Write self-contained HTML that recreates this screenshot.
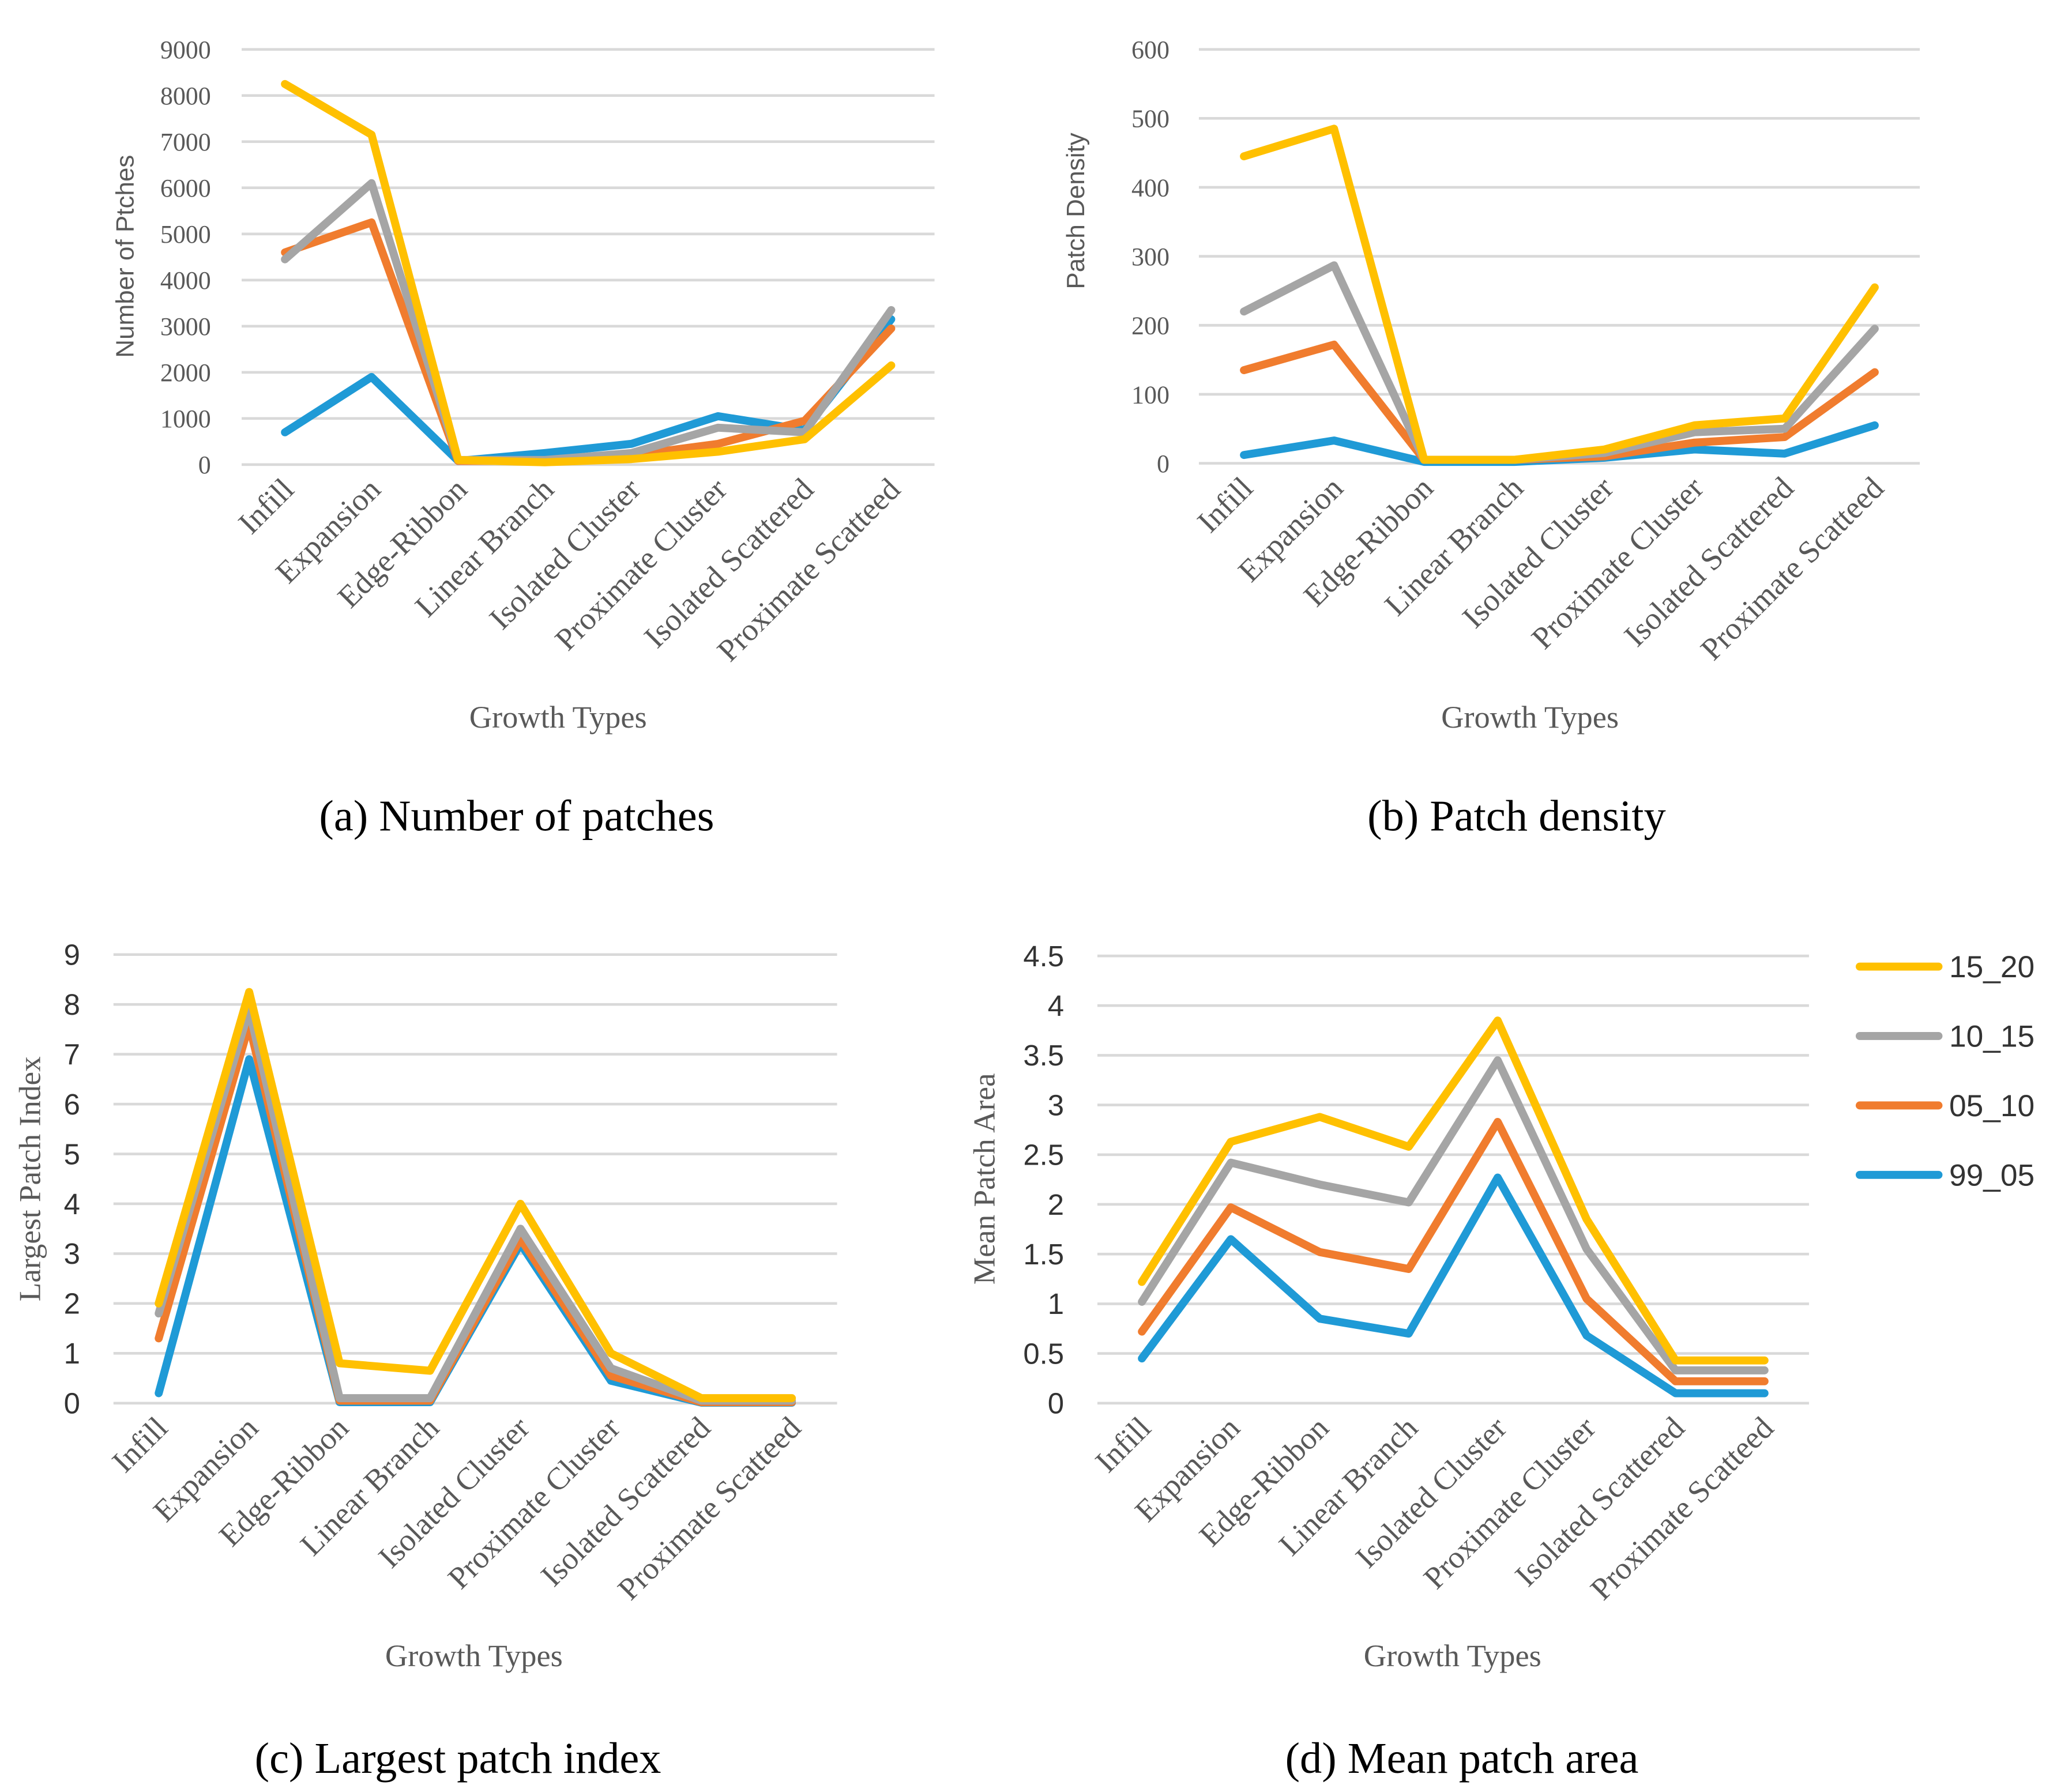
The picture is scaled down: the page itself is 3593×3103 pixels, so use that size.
<!DOCTYPE html>
<html><head><meta charset="utf-8"><style>
html,body{margin:0;padding:0;background:#fff;}
svg{display:block;}
.serif{font-family:"Liberation Serif",serif;}
.sans{font-family:"Liberation Sans",sans-serif;}
</style></head><body>
<svg id="fig" xmlns="http://www.w3.org/2000/svg" width="3593" height="3103" viewBox="0 0 1552 1340" preserveAspectRatio="none"></svg>
<script>
const categories = ["Infill","Expansion","Edge-Ribbon","Linear Branch","Isolated Cluster","Proximate Cluster","Isolated Scattered","Proximate Scatteed"];
const seriesNames = ["99_05","05_10","10_15","15_20"];
const seriesColors = ["#1F9AD6","#F07C2E","#A5A5A5","#FFC000"];

const aTicks = ["0","1000","2000","3000","4000","5000","6000","7000","8000","9000"];
const a9905 = [700,1900,80,250,450,1050,750,3150];
const a0510 = [4600,5250,80,80,200,450,950,2950];
const a1015 = [4450,6100,100,100,250,800,700,3350];
const a1520 = [8250,7150,100,50,120,280,550,2150];

const bTicks = ["0","100","200","300","400","500","600"];
const b9905 = [12,33,2,2,8,20,14,55];
const b0510 = [135,172,5,5,10,30,38,132];
const b1015 = [220,287,5,5,15,45,50,195];
const b1520 = [445,485,5,5,20,55,65,255];

const cTicks = ["0","1","2","3","4","5","6","7","8","9"];
const c9905 = [0.2,6.9,0.02,0.02,3.2,0.45,0.01,0.01];
const c0510 = [1.3,7.6,0.05,0.05,3.3,0.55,0.02,0.02];
const c1015 = [1.8,7.9,0.1,0.1,3.5,0.7,0.05,0.05];
const c1520 = [2.0,8.25,0.8,0.65,4.0,1.0,0.1,0.1];

const dTicks = ["0","0.5","1","1.5","2","2.5","3","3.5","4","4.5"];
const d9905 = [0.45,1.65,0.85,0.7,2.27,0.68,0.1,0.1];
const d0510 = [0.72,1.97,1.52,1.35,2.83,1.05,0.22,0.22];
const d1015 = [1.02,2.42,2.2,2.02,3.45,1.55,0.33,0.33];
const d1520 = [1.22,2.63,2.88,2.58,3.85,1.85,0.43,0.43];

const NS="http://www.w3.org/2000/svg";
const svg=document.getElementById('fig');
function mk(tag,attrs,parent,text){const e=document.createElementNS(NS,tag);for(const k in attrs)e.setAttribute(k,attrs[k]);if(text!==undefined)e.textContent=text;(parent||svg).appendChild(e);return e;}

function chart(id,cfg){
  const g=mk('g',{});
  
  
  const n=categories.length, cw=(cfg.x1-cfg.x0)/n;
  const ymax=parseFloat(cfg.ticks[cfg.ticks.length-1]);
  const xs=i=>cfg.x0+cw*(i+0.5);
  const ys=v=>cfg.yb-(v/ymax)*(cfg.yb-cfg.yt);
  cfg.ticks.forEach(t=>{
    const v=parseFloat(t);
    const l=mk('line',{x1:cfg.x0,x2:cfg.x1,y1:ys(v),y2:ys(v),stroke:'#D9D9D9','stroke-width':2},g);
    
    
    const tx=mk('text',{x:cfg.x0-cfg.tickGap,y:ys(v)+cfg.tickFs*0.35,'text-anchor':'end','font-size':cfg.tickFs,fill:cfg.tickFill,class:cfg.tickClass},g,t);
    
    
  });
  categories.forEach((c,i)=>{
    const x=xs(i)+8, y=cfg.yb+20;
    const tx=mk('text',{x:x,y:y,'text-anchor':'end','font-size':23.5,fill:'#595959',class:'serif',transform:`rotate(-45 ${x} ${y})`},g,c);
    
    
  });
  cfg.series.forEach((s,k)=>{
    const p=mk('polyline',{points:s.map((v,i)=>xs(i)+','+ys(v)).join(' '),fill:'none',stroke:seriesColors[k],'stroke-width':6,'stroke-linejoin':'round','stroke-linecap':'round'},g);
    
    
  });
  const yt=mk('text',{x:cfg.ytx,y:cfg.yty,'text-anchor':'middle','font-size':cfg.ytFs,fill:'#595959',class:cfg.ytClass,transform:`rotate(-90 ${cfg.ytx} ${cfg.yty})`},g,cfg.ytitle);
  
  
  const xt=mk('text',{x:cfg.gtx,y:cfg.gty,'text-anchor':'middle','font-size':23.5,fill:'#595959',class:'serif'},g,'Growth Types');
  
  
  const cap=mk('text',{x:cfg.capx,y:cfg.capy,'text-anchor':'middle','font-size':33,fill:'#000',class:'serif'},g,cfg.caption);
  
  
}

chart('chart-number-of-patches',{x0:181,x1:700,yt:37,yb:348,ticks:aTicks,tickGap:23,tickFs:19,tickFill:'#595959',tickClass:'serif',
  series:[a9905,a0510,a1015,a1520],ytitle:'Number of Ptches',ytx:100,yty:192,ytFs:19,ytClass:'sans',gtx:418,gty:545,capx:387,capy:622,caption:'(a) Number of patches'});
chart('chart-patch-density',{x0:898,x1:1438,yt:37,yb:347,ticks:bTicks,tickGap:22,tickFs:19,tickFill:'#595959',tickClass:'serif',
  series:[b9905,b0510,b1015,b1520],ytitle:'Patch Density',ytx:812,yty:158,ytFs:19,ytClass:'sans',gtx:1146,gty:545,capx:1136,capy:622,caption:'(b) Patch density'});
chart('chart-largest-patch-index',{x0:85,x1:627,yt:715,yb:1051,ticks:cTicks,tickGap:25,tickFs:22,tickFill:'#333',tickClass:'sans',
  series:[c9905,c0510,c1015,c1520],ytitle:'Largest Patch Index',ytx:30,yty:883,ytFs:23,ytClass:'serif',gtx:355,gty:1248,capx:343,capy:1328,caption:'(c) Largest patch index'});
chart('chart-mean-patch-area',{x0:822,x1:1355,yt:716,yb:1051,ticks:dTicks,tickGap:25,tickFs:22,tickFill:'#333',tickClass:'sans',
  series:[d9905,d0510,d1015,d1520],ytitle:'Mean Patch  Area',ytx:745,yty:883,ytFs:23,ytClass:'serif',gtx:1088,gty:1248,capx:1095,capy:1328,caption:'(d) Mean patch area'});

const lg=mk('g',{});


[3,2,1,0].forEach((k,j)=>{
  const y=724+j*52;
  const e=mk('g',{},lg);
  
  
  mk('line',{x1:1393,x2:1452,y1:y,y2:y,stroke:seriesColors[k],'stroke-width':6,'stroke-linecap':'round'},e);
  mk('text',{x:1460,y:y+8,'font-size':23,fill:'#333',class:'sans'},e,seriesNames[k]);
});
</script>
</body></html>
